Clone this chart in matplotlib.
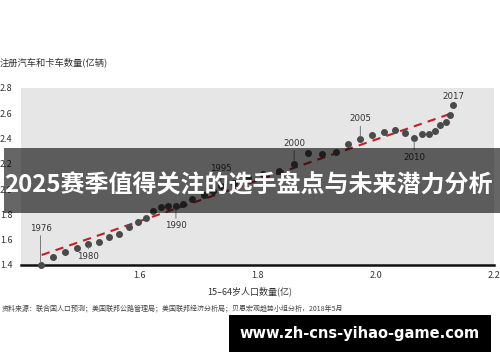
import matplotlib
matplotlib.use("Agg")
import matplotlib.pyplot as plt
from matplotlib.patches import Rectangle

plt.rcParams['font.family'] = ['Noto Sans CJK SC', 'DejaVu Sans']

years = list(range(1976, 2018))
population = [1.433, 1.454, 1.474, 1.494, 1.514, 1.532, 1.549, 1.566, 1.583, 1.598,
              1.611, 1.624, 1.637, 1.649, 1.662, 1.674, 1.689, 1.709, 1.725, 1.738,
              1.760, 1.784, 1.809, 1.837, 1.862, 1.886, 1.909, 1.932, 1.953, 1.974,
              1.994, 2.014, 2.032, 2.049, 2.065, 2.078, 2.090, 2.100, 2.109, 2.118,
              2.125, 2.131]
vehicles = [1.400, 1.466, 1.500, 1.538, 1.566, 1.580, 1.619, 1.645, 1.697, 1.738,
            1.772, 1.827, 1.855, 1.869, 1.863, 1.885, 1.922, 1.954, 1.985, 2.025,
            2.049, 2.088, 2.120, 2.146, 2.199, 2.284, 2.278, 2.294, 2.355, 2.395,
            2.426, 2.455, 2.466, 2.446, 2.405, 2.434, 2.435, 2.459, 2.504, 2.534,
            2.585, 2.663]
trend_x = [1.435, 2.132]
trend_y = [1.479, 2.605]

labeled_years = [1976, 1980, 1990, 1995, 2000, 2005, 2010, 2017]
# label offset direction (+ above / - below) in points
label_offsets = {1976: 23, 1980: -5.5, 1990: -10.5, 1995: 9, 2000: 11.5, 2005: 11.3, 2010: -10.8, 2017: 3}
label_lines = {1976: True, 1980: True, 1990: True, 1995: True, 2000: True, 2005: True, 2010: True, 2017: False}

x_ticks = [1.6, 1.8, 2.0, 2.2]
y_ticks = [1.4, 1.6, 1.8, 2.0, 2.2, 2.4, 2.6, 2.8]

title_text = "2025赛季值得关注的选手盘点与未来潜力分析"
url_text = "www.zh-cns-yihao-game.com"
ylabel_text = "注册汽车和卡车数量(亿辆)"
xlabel_text = "15–64岁人口数量(亿)"
source_text = "资料来源：联合国人口预测；美国联邦公路管理局；美国联邦经济分析局；贝恩宏观趋势小组分析，2018年5月"

fig = plt.figure(figsize=(5, 3.62), dpi=100)
fig.patch.set_facecolor('white')
ax = fig.add_axes([0.042, 0.268, 0.946, 0.489])
ax.set_facecolor('#e7e6e7')
ax.set_xlim(1.4, 2.2)
ax.set_ylim(1.4, 2.8)

for s in ['top', 'right', 'left']:
    ax.spines[s].set_visible(False)
ax.spines['bottom'].set_linewidth(1.8)
ax.spines['bottom'].set_color('#111111')

ax.set_xticks(x_ticks)
ax.set_xticklabels([f"{v:.1f}" for v in x_ticks])
ax.set_yticks(y_ticks)
ax.set_yticklabels([f"{v:.1f}" for v in y_ticks])
ax.tick_params(axis='both', length=0, labelsize=6.5, colors='#333333')
ax.tick_params(axis='y', pad=6)
ax.tick_params(axis='x', pad=4)

ax.plot(trend_x, trend_y, linestyle=(0, (4, 3)), color='#c0202a', linewidth=1.5, zorder=2)
ax.scatter(population, vehicles, s=16, color='#4a4a4a', zorder=3, clip_on=False)

for yr in labeled_years:
    i = years.index(yr)
    px, py = population[i], vehicles[i]
    off = label_offsets[yr]
    va = 'bottom' if off > 0 else 'top'
    ax.annotate(str(yr), xy=(px, py), xytext=(0, off), textcoords='offset points',
                ha='center', va=va, fontsize=6.2, color='#333333',
                family=['DejaVu Sans'],
                arrowprops=dict(arrowstyle='-', color='#777777', lw=0.7,
                                shrinkA=0, shrinkB=2) if label_lines[yr] else None,
                zorder=4)

fig.text(0.0, 0.828, ylabel_text, fontsize=6.7, color='#333333', va='center', ha='left')
fig.text(0.5, 0.194, xlabel_text, fontsize=6.5, color='#333333', va='center', ha='center')
fig.text(0.004, 0.148, source_text, fontsize=5.0, color='#444444', va='center', ha='left')

# dark translucent banner
fig.patches.append(Rectangle((0.008, 1 - 213 / 362), 0.992, (213 - 148) / 362,
                             transform=fig.transFigure, facecolor='#000000', alpha=0.6,
                             edgecolor='none', zorder=10))
fig.text(0.497, 1 - 185 / 362, title_text, fontsize=17.3, fontweight='bold', color='white',
         ha='center', va='center', zorder=11)

# url box
fig.patches.append(Rectangle((229 / 500, 1 - 352 / 362), (491 - 229) / 500, (352 - 315) / 362,
                             transform=fig.transFigure, facecolor='#000000',
                             edgecolor='none', zorder=10))
fig.text(360 / 500, 1 - 333.5 / 362, url_text, fontsize=10.5, fontweight='bold', color='white',
         ha='center', va='center', zorder=11, family=['DejaVu Sans'])

fig.savefig('out.png', dpi=100)
